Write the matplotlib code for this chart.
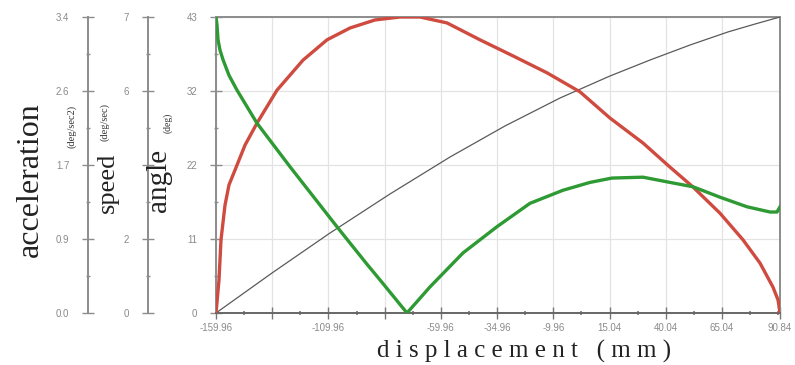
import matplotlib
matplotlib.use('Agg')
import matplotlib.pyplot as plt
from matplotlib.ticker import FixedLocator, AutoMinorLocator

plt.rcParams['font.family'] = 'Liberation Sans'

# displacement (mm) vs angle (deg) - thin dark line
ANGLE_X = [-159.96, -135.06, -109.27, -82.59, -55.90, -31.45, -6.99,
           15.24, 33.03, 50.82, 67.72, 79.72, 90.84]
ANGLE_Y = [0.0, 5.81, 11.62, 17.29, 22.66, 27.17, 31.23,
           34.43, 36.75, 38.93, 40.83, 41.98, 43.0]

# speed (deg/sec) - red
SPEED_X = [-159.96, -158.63, -157.74, -155.96, -154.18, -151.51, -147.06,
           -141.73, -132.83, -121.27, -110.60, -100.37, -89.26, -78.14,
           -69.24, -57.24, -42.56, -27.89, -12.77, 1.90, 15.24, 29.92,
           41.92, 52.15, 64.16, 74.39, 81.95, 87.73, 89.96, 90.84]
SPEED_Y = [0.0, 0.78, 1.73, 2.55, 3.03, 3.38, 3.97,
           4.49, 5.27, 5.98, 6.46, 6.74, 6.93, 7.0,
           7.0, 6.86, 6.46, 6.08, 5.68, 5.23, 4.61, 4.02,
           3.45, 2.98, 2.36, 1.73, 1.18, 0.61, 0.31, 0.0]

# acceleration (deg/sec2) - green
ACCEL_X = [-159.96, -159.52, -159.07, -158.18, -156.85, -154.18, -150.62,
           -141.73, -127.05, -106.15, -92.81, -87.03, -75.03, -64.80,
           -50.12, -35.08, -20.33, -5.66, 6.35, 16.13, 29.92, 41.92,
           52.15, 64.16, 76.17, 86.40, 89.51, 90.84]
ACCEL_Y = [3.40, 3.31, 3.14, 3.02, 2.91, 2.73, 2.56,
           2.18, 1.68, 0.99, 0.56, 0.38, 0.0, 0.30,
           0.69, 0.99, 1.26, 1.41, 1.50, 1.55, 1.56, 1.50,
           1.45, 1.33, 1.22, 1.16, 1.16, 1.22]

X_TICKS = [-159.96, -134.96, -109.96, -84.96, -59.96, -34.96, -9.96,
           15.04, 40.04, 65.04, 90.84]
X_LABELS = ['-159.96', '', '-109.96', '', '-59.96', '-34.96', '-9.96',
            '15.04', '40.04', '65.04', '90.84']

ANGLE_TICKS = [0, 10.75, 21.5, 32.25, 43]
ANGLE_LABELS = ['0', '11', '22', '32', '43']
SPEED_TICKS = [0, 1.75, 3.5, 5.25, 7]
SPEED_LABELS = ['0', '2', '', '6', '7']
ACCEL_TICKS = [0, 0.85, 1.7, 2.55, 3.4]
ACCEL_LABELS = ['0.0', '0.9', '1.7', '2.6', '3.4']

SPINE = '#8c8c8c'
TICK_TXT = '#8a8a8a'
SERIF = 'Liberation Serif'

W, H = 795, 365
fig = plt.figure(figsize=(W / 100, H / 100), dpi=100)
fig.patch.set_facecolor('white')

ax = fig.add_axes([216 / W, 52 / H, 564 / W, 296 / H])
ax_speed = ax.twinx()
ax_accel = ax.twinx()


def style_y(a, ticks, labels, lim, outward_px):
    a.set_ylim(*lim)
    a.yaxis.set_major_locator(FixedLocator(ticks))
    a.set_yticklabels(labels)
    a.yaxis.set_minor_locator(AutoMinorLocator(2))
    a.yaxis.set_ticks_position('left')
    a.tick_params(axis='y', which='major', direction='inout', length=9,
                  width=1.0, color=SPINE, labelcolor=TICK_TXT, labelsize=7, pad=9)
    a.tick_params(axis='y', which='minor', direction='inout', length=3.5,
                  width=1.0, color=SPINE)
    for s in a.spines.values():
        s.set_visible(False)
    a.spines['left'].set_visible(True)
    a.spines['left'].set_color(SPINE)
    a.spines['left'].set_linewidth(1.4)
    if outward_px:
        # outward offset is in points
        a.spines['left'].set_position(('outward', outward_px * 0.72))


ax.set_xlim(X_TICKS[0], X_TICKS[-1])
style_y(ax, ANGLE_TICKS, ANGLE_LABELS, (0, 43), 0)
style_y(ax_speed, SPEED_TICKS, SPEED_LABELS, (0, 7), 68)
style_y(ax_accel, ACCEL_TICKS, ACCEL_LABELS, (0, 3.4), 128)

for side in ['top', 'right', 'bottom']:
    ax.spines[side].set_visible(True)
    ax.spines[side].set_color(SPINE)
    ax.spines[side].set_linewidth(1.4)
ax.spines['bottom'].set_color('#666666')

ax.xaxis.set_major_locator(FixedLocator(X_TICKS))
ax.set_xticklabels(X_LABELS)
ax.xaxis.set_minor_locator(AutoMinorLocator(2))
ax.tick_params(axis='x', which='major', direction='inout', length=8, width=1.0,
               color='#777777', labelcolor=TICK_TXT, labelsize=7, pad=3)
ax.tick_params(axis='x', which='minor', direction='inout', length=3, width=1.2,
               color='#777777')

ax.grid(True, which='major', color='#e3e3e3', linewidth=0.9)
ax.set_axisbelow(True)

ax.plot(ANGLE_X, ANGLE_Y, color='#5a5a5a', linewidth=0.9, zorder=3)
ax_speed.plot(SPEED_X, SPEED_Y, color='#cf4b40', linewidth=2.4,
              solid_joinstyle='round', zorder=3)
ax_accel.plot(ACCEL_X, ACCEL_Y, color='#2e9a33', linewidth=2.4,
              solid_joinstyle='round', zorder=3)

# axis titles, drawn as figure text
fig.text(30 / W, 1 - 180 / H, 'acceleration', family=SERIF, fontsize=23,
         rotation=90, ha='center', va='center', color='#222222')
fig.text(72 / W, 1 - 126 / H, '(deg/sec2)', family=SERIF, fontsize=7.5,
         rotation=90, ha='center', va='center', color='#333333')
fig.text(108 / W, 1 - 183 / H, 'speed', family=SERIF, fontsize=19,
         rotation=90, ha='center', va='center', color='#222222')
fig.text(105 / W, 1 - 122 / H, '(deg/sec)', family=SERIF, fontsize=7.5,
         rotation=90, ha='center', va='center', color='#333333')
fig.text(159 / W, 1 - 180 / H, 'angle', family=SERIF, fontsize=21,
         rotation=90, ha='center', va='center', color='#222222')
fig.text(168 / W, 1 - 123 / H, '(deg)', family=SERIF, fontsize=7,
         rotation=90, ha='center', va='center', color='#333333')

fig.text(524 / W, 1 - 351 / H, 'd i s p l a c e m e n t   ( m m )', family=SERIF,
         fontsize=18, ha='center', va='center', color='#222222')

fig.savefig('out.png', dpi=100)
